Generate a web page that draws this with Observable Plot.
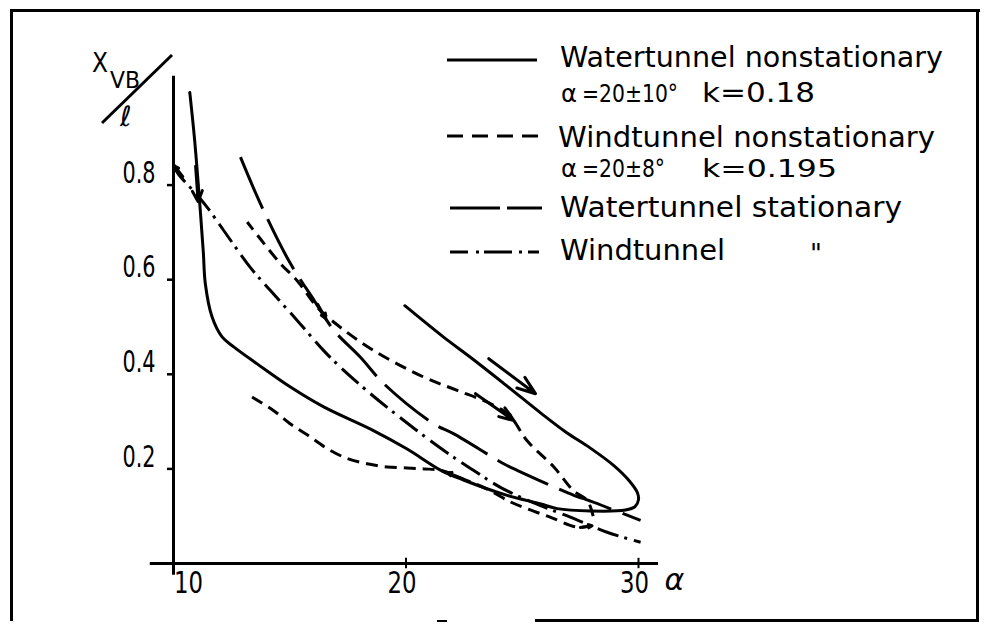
<!DOCTYPE html>
<html><head><meta charset="utf-8">
<script src="https://cdn.jsdelivr.net/npm/d3@7"></script>
<script src="https://cdn.jsdelivr.net/npm/@observablehq/plot@0.6"></script>
<style>
html,body{margin:0;padding:0;background:#fff;}
#wrap{position:relative;width:992px;height:628px;overflow:hidden;background:#fff;}
#wrap svg{position:absolute;left:0;top:0;}
.b{position:absolute;background:#000;}
</style>
</head><body>
<div id="wrap">
  <div id="chart"></div>
  <svg id="legend" width="992" height="628" style="pointer-events:none">
    <g stroke="#000" stroke-width="3" fill="none">
      <line x1="447" x2="537" y1="60" y2="60"/>
      <line x1="447" x2="538" y1="136" y2="136" stroke-dasharray="16,9"/>
      <line x1="450" x2="542" y1="208" y2="208" stroke-dasharray="50,7"/>
      <line x1="450" x2="543" y1="252" y2="252" stroke-dasharray="18,8,3,5,28,7,3,6,11"/>
    </g>
    <g font-family="DejaVu Sans" font-size="28" fill="#000">
      <text x="560" y="67" textLength="383" lengthAdjust="spacingAndGlyphs">Watertunnel nonstationary</text>
      <text x="558" y="147" textLength="377" lengthAdjust="spacingAndGlyphs">Windtunnel nonstationary</text>
      <text x="560" y="217" textLength="342" lengthAdjust="spacingAndGlyphs">Watertunnel stationary</text>
      <text x="560" y="260" textLength="165" lengthAdjust="spacingAndGlyphs">Windtunnel</text>
      <text x="810" y="263" font-size="26">"</text>
    </g>
    <g font-family="'DejaVu Sans Condensed', 'DejaVu Sans'" font-size="25" fill="#000">
      <text x="561" y="102" textLength="16" lengthAdjust="spacingAndGlyphs">α</text>
      <text x="582" y="102" textLength="96" lengthAdjust="spacingAndGlyphs">=20±10°</text>
      <text x="561" y="177" textLength="16" lengthAdjust="spacingAndGlyphs">α</text>
      <text x="582" y="177" textLength="83" lengthAdjust="spacingAndGlyphs">=20±8°</text>
    </g>
    <g font-family="DejaVu Sans" font-size="26" fill="#000">
      <text x="702" y="102" textLength="113" lengthAdjust="spacingAndGlyphs">k=0.18</text>
      <text x="702" y="177" font-size="25" textLength="135" lengthAdjust="spacingAndGlyphs">k=0.195</text>
    </g>
    <g fill="#000" font-family="DejaVu Sans">
      <text x="92" y="72" font-size="26" textLength="16" lengthAdjust="spacingAndGlyphs">X</text>
      <text x="110" y="88" font-size="23" textLength="30" lengthAdjust="spacingAndGlyphs">VB</text>
      <text x="120" y="126" font-size="28">ℓ</text>
    </g>
    <line x1="102" y1="123" x2="172" y2="55" stroke="#000" stroke-width="3"/>
  </svg>
  <div class="b" style="left:10px;top:9px;width:970px;height:3px"></div>
  <div class="b" style="left:10px;top:9px;width:3px;height:612px"></div>
  <div class="b" style="left:976px;top:9px;width:3px;height:612px"></div>
  <div class="b" style="left:535px;top:619px;width:444px;height:3px"></div>
  <div class="b" style="left:437px;top:620px;width:10px;height:2px"></div>
</div>
<script>
// ---- data (alpha in degrees, x_VB / l) ----
const xTicks = [10, 20, 30];
const yTicks = [0.2, 0.4, 0.6, 0.8];

// Watertunnel nonstationary (hysteresis loop: upper branch, tip, lower branch)
const waterNonX = [19.95, 21.63, 22.77, 24.35, 25.8, 26.9, 27.9, 28.94, 29.6, 29.95, 30.0, 29.85, 29.44, 27.94, 26.5, 25.8, 24.35, 22.5, 21.5, 20.05, 18.6, 16.46, 15.03, 13.6, 12.59, 12.09, 11.66, 11.37, 11.28, 11.1, 10.9, 10.7];
const waterNonY = [0.545, 0.478, 0.436, 0.375, 0.318, 0.277, 0.245, 0.207, 0.175, 0.15, 0.135, 0.12, 0.113, 0.111, 0.116, 0.126, 0.144, 0.176, 0.197, 0.242, 0.281, 0.331, 0.373, 0.422, 0.458, 0.479, 0.521, 0.591, 0.66, 0.78, 0.9, 0.996];

// Windtunnel nonstationary: lower branch and upper branch
const windNonLowX = [13.38, 14.31, 15.0, 15.75, 16.61, 17.47, 18.33, 19.19, 20.05, 20.77, 21.48, 22.5, 23.5, 24.5, 25.2, 26.2, 27.36, 28.0];
const windNonLowY = [0.352, 0.323, 0.296, 0.272, 0.243, 0.222, 0.211, 0.204, 0.202, 0.2, 0.197, 0.178, 0.157, 0.13, 0.116, 0.098, 0.077, 0.08];
const windNonUpX = [28.05, 27.8, 27.2, 26.36, 25.2, 24.5, 23.63, 22.2, 20.77, 18.62, 16.9, 16.18, 15.32, 14.6, 13.74, 13.17];
const windNonUpY = [0.1, 0.133, 0.154, 0.204, 0.26, 0.31, 0.338, 0.366, 0.394, 0.45, 0.51, 0.542, 0.598, 0.634, 0.686, 0.722];

// Watertunnel stationary
const waterStatX = [12.88, 13.81, 15.03, 16.0, 16.9, 18.04, 19.05, 21.2, 22.06, 24.2, 24.78, 27.22, 27.65, 30.09];
const waterStatY = [0.859, 0.753, 0.634, 0.56, 0.493, 0.436, 0.38, 0.295, 0.274, 0.211, 0.197, 0.144, 0.137, 0.091];

// Windtunnel stationary
const windStatX = [10.0, 10.16, 11.09, 11.45, 12.16, 13.3, 14.17, 15.32, 16.46, 17.18, 18.47, 19.19, 21.48, 22.9, 24.06, 25.5, 27.07, 28.65, 30.09];
const windStatY = [0.845, 0.827, 0.775, 0.753, 0.704, 0.626, 0.577, 0.514, 0.45, 0.415, 0.359, 0.33, 0.244, 0.197, 0.161, 0.128, 0.098, 0.066, 0.045];

// direction arrows drawn beside the branches
const sideArrows = [
  {x1: 23.56, y1: 0.433, x2: 25.57, y2: 0.359},
  {x1: 22.99, y1: 0.359, x2: 24.64, y2: 0.302}
];
// small arrowheads sitting on the curves
const curveHeads = [
  {x1: 10.4, y1: 0.818, x2: 10.05, y2: 0.84},
  {x1: 10.95, y1: 0.84, x2: 11.06, y2: 0.765},
  {x1: 16.2, y1: 0.548, x2: 16.55, y2: 0.518},
  {x1: 24.1, y1: 0.326, x2: 24.55, y2: 0.306},
  {x1: 27.5, y1: 0.076, x2: 28.0, y2: 0.08},
  {x1: 22.3, y1: 0.182, x2: 21.8, y2: 0.192}
];

const pts = (xs, ys) => xs.map((x, i) => ({x, y: ys[i]}));
const waterNon = pts(waterNonX, waterNonY);
const windNonLow = pts(windNonLowX, windNonLowY);
const windNonUp = pts(windNonUpX, windNonUpY);
const waterStat = pts(waterStatX, waterStatY);
const windStat = pts(windStatX, windStatY);

const tickFont = "'DejaVu Sans Condensed', 'DejaVu Sans', sans-serif";

const chart = Plot.plot({
  width: 992,
  height: 628,
  marginLeft: 173,
  marginRight: 354,
  marginTop: 90,
  marginBottom: 65,
  x: {domain: [10, 30], axis: null},
  y: {domain: [0, 1], axis: null},
  style: {background: "transparent", overflow: "visible", color: "#000"},
  marks: [
    // axes
    Plot.ruleY([0], {x1: 9.0, x2: 30.86, stroke: "#000", strokeWidth: 3}),
    Plot.ruleX([10], {y1: -0.025, y2: 1.03, stroke: "#000", strokeWidth: 3}),
    Plot.ruleY(yTicks, {x1: 9.74, x2: 10, stroke: "#000", strokeWidth: 2.5}),
    Plot.ruleX(xTicks.slice(1), {y1: -0.011, y2: 0.011, stroke: "#000", strokeWidth: 2}),
    Plot.text(yTicks, {x: 10, y: d => d, text: d => d.toFixed(1), textAnchor: "end", dx: -18, dy: -12,
      fontSize: 30, fontFamily: tickFont, fill: "#000"}),
    Plot.text(xTicks.slice(0, 1), {x: d => d, y: 0, text: d => String(d), dx: 15, dy: 20,
      fontSize: 31, fontFamily: tickFont, fill: "#000"}),
    Plot.text(xTicks.slice(1), {x: d => d, y: 0, text: d => String(d), dx: -4, dy: 20,
      fontSize: 31, fontFamily: tickFont, fill: "#000"}),
    Plot.text([30], {x: d => d, y: 0, text: () => "α", dx: 36, dy: 17, fontSize: 30,
      fontStyle: "italic", fontFamily: "DejaVu Sans", fill: "#000"}),
    // curves
    Plot.line(waterNon, {x: "x", y: "y", curve: "catmull-rom", stroke: "#000", strokeWidth: 3}),
    Plot.line(windNonLow, {x: "x", y: "y", curve: "catmull-rom", stroke: "#000", strokeWidth: 3,
      strokeDasharray: "12,7", strokeLinecap: "butt"}),
    Plot.line(windNonUp, {x: "x", y: "y", curve: "catmull-rom", stroke: "#000", strokeWidth: 3,
      strokeDasharray: "12,7", strokeLinecap: "butt"}),
    Plot.line(waterStat, {x: "x", y: "y", curve: "catmull-rom", stroke: "#000", strokeWidth: 3,
      strokeDasharray: "56,12", strokeLinecap: "butt"}),
    Plot.line(windStat, {x: "x", y: "y", curve: "catmull-rom", stroke: "#000", strokeWidth: 3,
      strokeDasharray: "22,6,3,7", strokeLinecap: "butt"}),
    Plot.arrow(sideArrows, {x1: "x1", y1: "y1", x2: "x2", y2: "y2", stroke: "#000", strokeWidth: 3, headLength: 14, headAngle: 40}),
    Plot.arrow(curveHeads, {x1: "x1", y1: "y1", x2: "x2", y2: "y2", stroke: "#000", strokeWidth: 3, headLength: 11, headAngle: 50})
  ]
});
// narrow the numeric tick labels to the drawing's condensed lettering
chart.querySelectorAll("text").forEach(t => {
  const s = t.textContent.trim();
  if (/^\d+(\.\d)?$/.test(s)) {
    t.setAttribute("textLength", s.length === 3 ? 33 : 29);
    t.setAttribute("lengthAdjust", "spacingAndGlyphs");
  }
});
document.getElementById("chart").appendChild(chart);
</script>
</body></html>
